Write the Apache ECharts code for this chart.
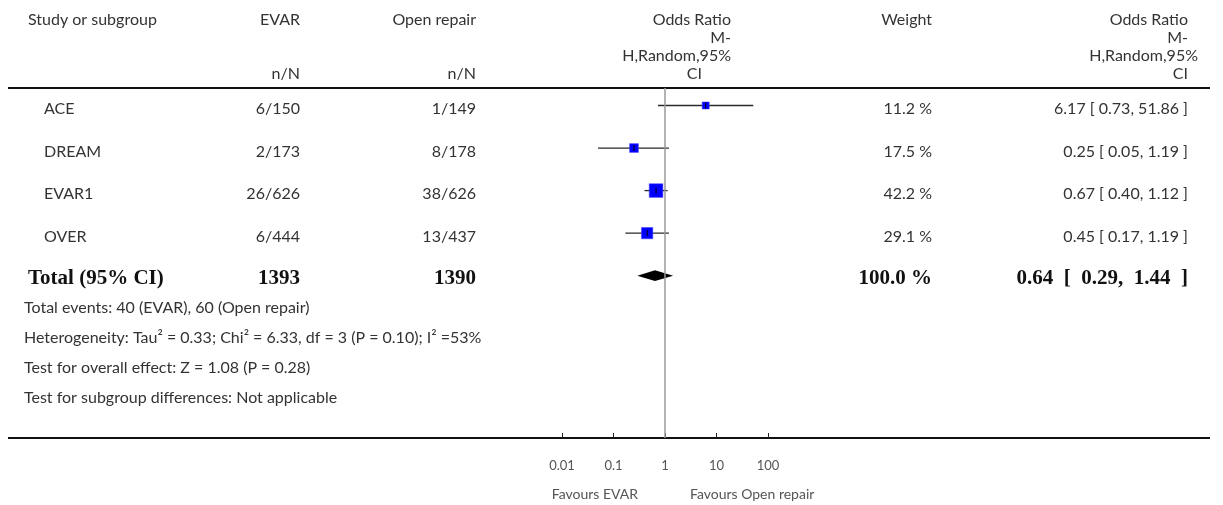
<!DOCTYPE html>
<html>
<head>
<meta charset="utf-8">
<script src="https://cdn.jsdelivr.net/npm/echarts@6/dist/echarts.min.js"></script>
<style>
  html, body { margin: 0; padding: 0; background: #fff; }
  #chart { width: 1223px; height: 505px; }
</style>
</head>
<body>
<div id="chart"></div>
<script>
// Study-level data: EVAR vs open repair, odds ratios (M-H, random effects, 95% CI)
const studies     = ['ACE', 'DREAM', 'EVAR1', 'OVER'];
const evarEvents  = [6, 2, 26, 6];
const evarTotal   = [150, 173, 626, 444];
const openEvents  = [1, 8, 38, 13];
const openTotal   = [149, 178, 626, 437];
const weights     = [11.2, 17.5, 42.2, 29.1];
const oddsRatio   = [6.17, 0.25, 0.67, 0.45];
const ciLow       = [0.73, 0.05, 0.40, 0.17];
const ciHigh      = [51.86, 1.19, 1.12, 1.19];

// Pooled estimate
const pooledOR     = 0.64;
const pooledLow    = 0.29;
const pooledHigh   = 1.44;
const pooledWeight = 100.0;

// Axis ticks
const axisTickValues = [0.01, 0.1, 1, 10, 100];
const axisTickLabels = ['0.01', '0.1', '1', '10', '100'];

// Footnotes
const footnotes = [
  'Heterogeneity: Tau\u00b2 = 0.33; Chi\u00b2 = 6.33, df = 3 (P = 0.10); I\u00b2 =53%',
  'Test for overall effect: Z = 1.08 (P = 0.28)',
  'Test for subgroup differences: Not applicable'
];

const sum = a => a.reduce((s, v) => s + v, 0);
const fmtCI = (o, l, h) => `${o.toFixed(2)} [ ${l.toFixed(2)}, ${h.toFixed(2)} ]`;
const fmtCIBold = (o, l, h) => `${o.toFixed(2)}  [  ${l.toFixed(2)},  ${h.toFixed(2)}  ]`;

const SANS = '"Lato", "Open Sans", sans-serif';
const SERIF = '"Liberation Serif", "DejaVu Serif", serif';
const TXT = '#333';
const BODY_FONT = `16px ${SANS}`;
const BOLD_FONT = `bold 21px ${SERIF}`;

// Table column anchors
const COL = { name: 44, total: 28, evar: 300, open: 476, weight: 932, or: 1188 };
const totalRow = studies.length;

function txt(text, x, y, align, font, fill) {
  return {
    type: 'text',
    silent: true,
    style: {
      text: text, x: x, y: y,
      align: align, textAlign: align,
      verticalAlign: 'middle', textVerticalAlign: 'middle',
      font: font || BODY_FONT,
      fill: fill || TXT
    }
  };
}

const chart = echarts.init(document.getElementById('chart'), null, { renderer: 'canvas' });

const headerGraphics = [
  txt('Study or subgroup', 28, 20, 'left'),
  txt('EVAR', COL.evar, 20, 'right'),
  txt('Open repair', COL.open, 20, 'right'),
  txt('n/N', COL.evar, 74, 'right'),
  txt('n/N', COL.open, 74, 'right'),
  txt('Odds Ratio', 731, 20, 'right'),
  txt('M-', 731, 38, 'right'),
  txt('H,Random,95%', 731, 56, 'right'),
  txt('CI', 702, 74, 'right'),
  txt('Weight', COL.weight, 20, 'right'),
  txt('Odds Ratio', COL.or, 20, 'right'),
  txt('M-', COL.or, 38, 'right'),
  txt('H,Random,95%', 1198, 56, 'right'),
  txt('CI', COL.or, 74, 'right')
];

const footGraphics = [
  txt(`Total events: ${sum(evarEvents)} (EVAR), ${sum(openEvents)} (Open repair)`, 24, 308, 'left')
].concat(footnotes.map((f, i) => txt(f, 24, 338 + i * 30, 'left')));

const ruleGraphics = [
  { type: 'line', silent: true, shape: { x1: 8, y1: 88, x2: 1210, y2: 88 }, style: { stroke: '#111', lineWidth: 2.2 } },
  { type: 'line', silent: true, shape: { x1: 8, y1: 438, x2: 1210, y2: 438 }, style: { stroke: '#111', lineWidth: 2.2 } }
];

const favourGraphics = [
  txt('Favours EVAR', 638, 494, 'right', `14px ${SANS}`, '#555'),
  txt('Favours Open repair', 690, 494, 'left', `14px ${SANS}`, '#555')
];

const option = {
  backgroundColor: '#fff',
  animation: false,
  grid: { left: 562, width: 206, top: 88, bottom: 67, containLabel: false },
  xAxis: {
    type: 'log',
    logBase: 10,
    position: 'bottom',
    min: axisTickValues[0],
    max: axisTickValues[axisTickValues.length - 1],
    axisLine: { show: false, onZero: false },
    axisTick: { show: true, inside: true, length: 5, lineStyle: { color: '#222', width: 1 } },
    splitLine: { show: false },
    axisLabel: {
      margin: 21,
      fontSize: 13,
      fontFamily: SANS,
      color: '#555',
      formatter: v => {
        const k = axisTickValues.findIndex(t => Math.abs(Math.log10(t) - Math.log10(v)) < 1e-6);
        return k >= 0 ? axisTickLabels[k] : '';
      }
    }
  },
  yAxis: {
    type: 'value',
    inverse: true,
    min: -0.411,
    max: 7.815,
    show: false
  },
  graphic: headerGraphics.concat(footGraphics, ruleGraphics, favourGraphics),
  series: [
    {
      // Study confidence intervals and weighted point estimates
      type: 'custom',
      name: 'studies',
      clip: false,
      encode: { x: [0, 2, 3], y: 1 },
      data: studies.map((s, i) => [oddsRatio[i], i, ciLow[i], ciHigh[i], weights[i]]),
      renderItem: (params, api) => {
        const row = api.value(1);
        const p = api.coord([api.value(0), row]);
        const lo = api.coord([api.value(2), row]);
        const hi = api.coord([api.value(3), row]);
        const size = 2.1 * Math.sqrt(api.value(4));
        return {
          type: 'group',
          children: [
            { type: 'line', shape: { x1: lo[0], y1: p[1], x2: hi[0], y2: p[1] }, style: { stroke: '#2a2a2a', lineWidth: 1.3 } },
            { type: 'rect', shape: { x: p[0] - size / 2, y: p[1] - size / 2, width: size, height: size },
              style: { fill: '#0000ff', stroke: 'rgba(70,70,255,0.55)', lineWidth: 1 } },
            { type: 'line', shape: { x1: p[0], y1: p[1] - 3, x2: p[0], y2: p[1] + 3 }, style: { stroke: '#000', lineWidth: 1 } }
          ]
        };
      },
      markLine: {
        silent: true,
        symbol: 'none',
        label: { show: false },
        lineStyle: { color: '#9a9a9a', width: 1.5, type: 'solid' },
        data: [{ xAxis: 1 }]
      },
      z: 3
    },
    {
      // Pooled estimate diamond
      type: 'custom',
      name: 'pooled',
      clip: false,
      encode: { x: [0, 2, 3], y: 1 },
      data: [[pooledOR, totalRow, pooledLow, pooledHigh]],
      renderItem: (params, api) => {
        const row = api.value(1);
        const c = api.coord([api.value(0), row]);
        const lo = api.coord([api.value(2), row]);
        const hi = api.coord([api.value(3), row]);
        const h = 5.4;
        return {
          type: 'polygon',
          shape: { points: [[lo[0], c[1]], [c[0], c[1] - h], [hi[0], c[1]], [c[0], c[1] + h]] },
          style: { fill: '#000' }
        };
      },
      z: 4
    },
    {
      // Table rows: study name, counts, weight and effect text
      type: 'custom',
      name: 'table',
      clip: false,
      silent: true,
      encode: { y: 0 },
      data: studies.map((s, i) => [i]).concat([[totalRow]]),
      renderItem: (params, api) => {
        const i = api.value(0);
        const y = api.coord([1, i])[1];
        if (i < totalRow) {
          const ty = y + 3.5;
          return {
            type: 'group',
            children: [
              txt(studies[i], COL.name, ty, 'left'),
              txt(`${evarEvents[i]}/${evarTotal[i]}`, COL.evar, ty, 'right'),
              txt(`${openEvents[i]}/${openTotal[i]}`, COL.open, ty, 'right'),
              txt(`${weights[i].toFixed(1)} %`, COL.weight, ty, 'right'),
              txt(fmtCI(oddsRatio[i], ciLow[i], ciHigh[i]), COL.or, ty, 'right')
            ]
          };
        }
        const ty = y + 2.5;
        return {
          type: 'group',
          children: [
            txt('Total (95% CI)', COL.total, ty, 'left', BOLD_FONT, '#111'),
            txt(String(sum(evarTotal)), COL.evar, ty, 'right', BOLD_FONT, '#111'),
            txt(String(sum(openTotal)), COL.open, ty, 'right', BOLD_FONT, '#111'),
            txt(`${pooledWeight.toFixed(1)} %`, COL.weight, ty, 'right', BOLD_FONT, '#111'),
            txt(fmtCIBold(pooledOR, pooledLow, pooledHigh), COL.or, ty, 'right', BOLD_FONT, '#111')
          ]
        };
      },
      z: 5
    }
  ]
};

chart.setOption(option);
</script>
</body>
</html>
